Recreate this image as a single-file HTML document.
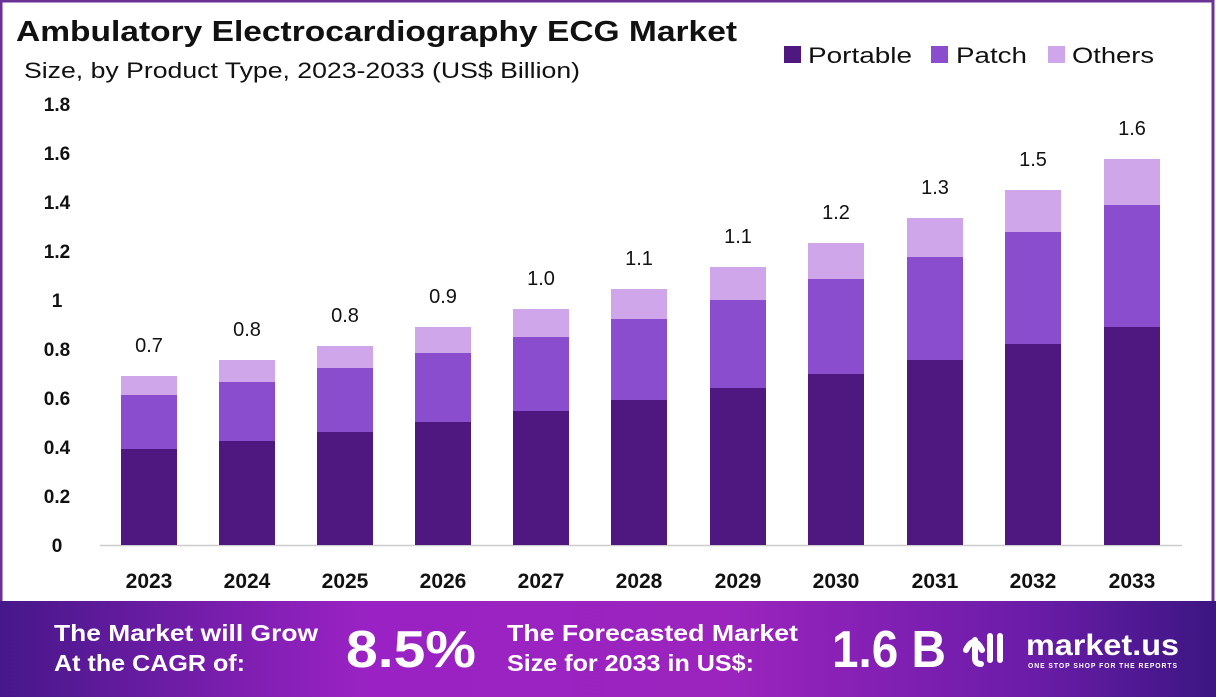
<!DOCTYPE html>
<html><head><meta charset="utf-8"><style>
html,body{margin:0;padding:0;background:#fff}
svg{display:block}
text{font-family:"Liberation Sans",sans-serif}
</style></head><body>
<svg width="1216" height="697" viewBox="0 0 1216 697" xmlns="http://www.w3.org/2000/svg">
<defs>
<linearGradient id="bg" x1="0" x2="1" y1="0" y2="0">
<stop offset="0" stop-color="#46178a"/>
<stop offset="0.3" stop-color="#9a22c4"/>
<stop offset="0.6" stop-color="#9b24be"/>
<stop offset="0.85" stop-color="#6a1ca8"/>
<stop offset="1" stop-color="#3c1682"/>
</linearGradient>
</defs>
<rect x="0" y="0" width="1216" height="697" fill="#fff"/>
<rect x="1" y="1" width="1212" height="620" fill="none" stroke="#6b3295" stroke-width="3"/>
<text x="16" y="41" font-size="29" font-weight="bold" fill="#111" textLength="721" lengthAdjust="spacingAndGlyphs">Ambulatory Electrocardiography ECG Market</text>
<text x="24" y="78" font-size="22" fill="#111" textLength="556" lengthAdjust="spacingAndGlyphs">Size, by Product Type, 2023-2033 (US$ Billion)</text>
<rect x="784" y="46" width="17" height="17" fill="#4f1780"/><text x="808" y="63" font-size="22" fill="#111" textLength="104" lengthAdjust="spacingAndGlyphs">Portable</text>
<rect x="931" y="46" width="17" height="17" fill="#8a4dce"/><text x="956" y="63" font-size="22" fill="#111" textLength="71" lengthAdjust="spacingAndGlyphs">Patch</text>
<rect x="1048" y="46" width="17" height="17" fill="#d0a6ea"/><text x="1072" y="63" font-size="22" fill="#111" textLength="82" lengthAdjust="spacingAndGlyphs">Others</text>
<g font-size="19" font-weight="bold" fill="#111" text-anchor="middle">
<text x="57" y="111">1.8</text><text x="57" y="160">1.6</text><text x="57" y="209">1.4</text>
<text x="57" y="258">1.2</text><text x="57" y="307">1</text><text x="57" y="356">0.8</text>
<text x="57" y="405">0.6</text><text x="57" y="454">0.4</text><text x="57" y="503">0.2</text>
<text x="57" y="552">0</text>
</g>
<line x1="100" y1="545.5" x2="1182" y2="545.5" stroke="#ccc" stroke-width="1.5"/>
<g id="bars">
<rect x="121" y="449" width="56" height="96" fill="#4f1780"/><rect x="121" y="395" width="56" height="54" fill="#8a4dce"/><rect x="121" y="376" width="56" height="19" fill="#d0a6ea"/>
<rect x="219" y="441" width="56" height="104" fill="#4f1780"/><rect x="219" y="382" width="56" height="59" fill="#8a4dce"/><rect x="219" y="360" width="56" height="22" fill="#d0a6ea"/>
<rect x="317" y="432" width="56" height="113" fill="#4f1780"/><rect x="317" y="368" width="56" height="64" fill="#8a4dce"/><rect x="317" y="346" width="56" height="22" fill="#d0a6ea"/>
<rect x="415" y="422" width="56" height="123" fill="#4f1780"/><rect x="415" y="353" width="56" height="69" fill="#8a4dce"/><rect x="415" y="327" width="56" height="26" fill="#d0a6ea"/>
<rect x="513" y="411" width="56" height="134" fill="#4f1780"/><rect x="513" y="337" width="56" height="74" fill="#8a4dce"/><rect x="513" y="309" width="56" height="28" fill="#d0a6ea"/>
<rect x="611" y="400" width="56" height="145" fill="#4f1780"/><rect x="611" y="319" width="56" height="81" fill="#8a4dce"/><rect x="611" y="289" width="56" height="30" fill="#d0a6ea"/>
<rect x="710" y="388" width="56" height="157" fill="#4f1780"/><rect x="710" y="300" width="56" height="88" fill="#8a4dce"/><rect x="710" y="267" width="56" height="33" fill="#d0a6ea"/>
<rect x="808" y="374" width="56" height="171" fill="#4f1780"/><rect x="808" y="279" width="56" height="95" fill="#8a4dce"/><rect x="808" y="243" width="56" height="36" fill="#d0a6ea"/>
<rect x="907" y="360" width="56" height="185" fill="#4f1780"/><rect x="907" y="257" width="56" height="103" fill="#8a4dce"/><rect x="907" y="218" width="56" height="39" fill="#d0a6ea"/>
<rect x="1005" y="344" width="56" height="201" fill="#4f1780"/><rect x="1005" y="232" width="56" height="112" fill="#8a4dce"/><rect x="1005" y="190" width="56" height="42" fill="#d0a6ea"/>
<rect x="1104" y="327" width="56" height="218" fill="#4f1780"/><rect x="1104" y="205" width="56" height="122" fill="#8a4dce"/><rect x="1104" y="159" width="56" height="46" fill="#d0a6ea"/>
</g>
<g font-size="20" fill="#111" text-anchor="middle">
<text x="149" y="352">0.7</text><text x="247" y="336">0.8</text><text x="345" y="322">0.8</text>
<text x="443" y="303">0.9</text><text x="541" y="285">1.0</text><text x="639" y="265">1.1</text>
<text x="738" y="243">1.1</text><text x="836" y="219">1.2</text><text x="935" y="194">1.3</text>
<text x="1033" y="166">1.5</text><text x="1132" y="135">1.6</text>
</g>
<g font-size="21" font-weight="bold" fill="#111" text-anchor="middle">
<text x="149" y="588">2023</text><text x="247" y="588">2024</text><text x="345" y="588">2025</text>
<text x="443" y="588">2026</text><text x="541" y="588">2027</text><text x="639" y="588">2028</text>
<text x="738" y="588">2029</text><text x="836" y="588">2030</text><text x="935" y="588">2031</text>
<text x="1033" y="588">2032</text><text x="1132" y="588">2033</text>
</g>
<rect x="0" y="601" width="1216" height="96" fill="url(#bg)"/>
<g fill="#fff" font-weight="bold">
<text x="54" y="641" font-size="23" textLength="264" lengthAdjust="spacingAndGlyphs">The Market will Grow</text>
<text x="54" y="671" font-size="23" textLength="191" lengthAdjust="spacingAndGlyphs">At the CAGR of:</text>
<text x="346" y="667" font-size="52" textLength="130" lengthAdjust="spacingAndGlyphs">8.5%</text>
<text x="507" y="641" font-size="23" textLength="291" lengthAdjust="spacingAndGlyphs">The Forecasted Market</text>
<text x="507" y="671" font-size="23" textLength="247" lengthAdjust="spacingAndGlyphs">Size for 2033 in US$:</text>
<text x="832" y="667" font-size="52" textLength="114" lengthAdjust="spacingAndGlyphs">1.6 B</text>
<path d="M966 650 q8 -16 16 0 M975 640 v18 q0 6 6 6 M990 636 v24 M1000 636 v24" stroke="#fff" stroke-width="6" fill="none" stroke-linecap="round"/>
<text x="1026" y="655" font-size="30" textLength="153" lengthAdjust="spacingAndGlyphs">market.us</text>
<text x="1028" y="668" font-size="7" letter-spacing="1" textLength="150" lengthAdjust="spacingAndGlyphs">ONE STOP SHOP FOR THE REPORTS</text>
</g>
</svg>
</body></html>
